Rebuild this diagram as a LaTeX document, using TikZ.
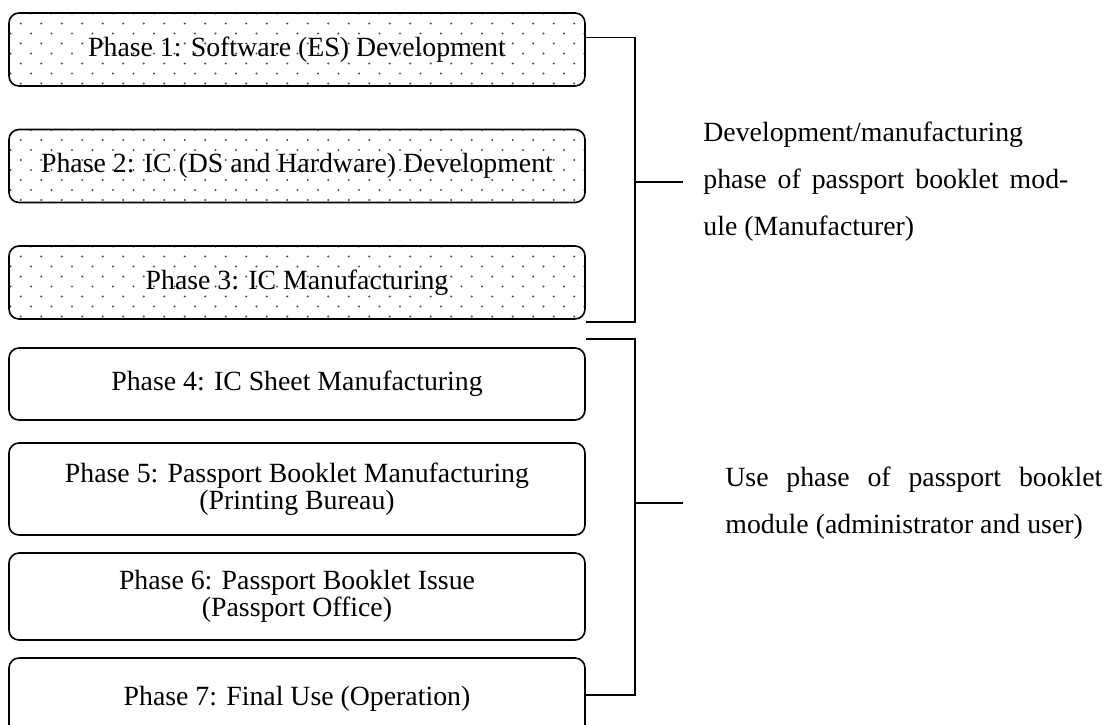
\documentclass[tikz,border=0pt]{standalone}
\usepackage{fontspec}
\setmainfont{Liberation Serif}
\begin{document}
\begin{tikzpicture}[x=0.5pt,y=-0.5pt,
  phasebox/.style={draw,line width=0.8pt,rounded corners=5pt,minimum width=288pt,
    align=center,font=\fontsize{13.9}{13.5}\selectfont,inner sep=0pt},
  devbox/.style={phasebox,minimum height=36.5pt,
    path picture={
      \foreach \r in {0,...,7}
        \foreach \c in {0,...,29}
          \fill[black!70] ([shift={({\c*20.5+mod(\r,2)*10.25+1.5},{\r*10+0.5})}]path picture bounding box.north west) circle (0.6pt);
    }},
  phasetext/.style={anchor=west,align=left,inner sep=0pt,font=\fontsize{13.9}{23.5}\selectfont},
  bracket/.style={line width=0.75pt}]
\useasboundingbox (0,0) rectangle (1106,724);
\node[devbox] (p1) at (297,49.5) {Phase 1: Software (ES) Development};
\node[devbox] (p2) at (297,166) {Phase 2: IC (DS and Hardware) Development};
\node[devbox] (p3) at (297,282.5) {Phase 3: IC Manufacturing};
\node[phasebox,minimum height=36pt] (p4) at (297,384) {Phase 4: IC Sheet Manufacturing};
\node[phasebox,minimum height=46pt] (p5) at (297,489) {Phase 5: Passport Booklet Manufacturing\\(Printing Bureau)};
\node[phasebox,minimum height=43.5pt] (p6) at (297,596.5) {Phase 6: Passport Booklet Issue\\(Passport Office)};
\node[phasebox,minimum height=41pt] (p7) at (297,699) {Phase 7: Final Use (Operation)};
\coordinate (k1) at (635,182);
\coordinate (k2) at (635,503);
\node[phasetext,inner xsep=10pt] (t1) at (683,182) {Development/manufacturing\\
  \makebox[182.5pt][s]{phase of passport booklet mod-}\\ule (Manufacturer)};
\node[phasetext,inner xsep=21pt] (t2) at (683,503) {\makebox[188.5pt][s]{Use phase of passport booklet}\\
  module (administrator and user)};
\draw[bracket] ([yshift=6pt]p1.east) -| (k1) |- ([yshift=-1pt]p3.south east);
\draw[bracket] ([yshift=4pt]p4.north east) -| (k2) |- ([yshift=2pt]p7.east);
\draw[bracket] (k1) -- (t1.west);
\draw[bracket] (k2) -- (t2.west);
\end{tikzpicture}
\end{document}
